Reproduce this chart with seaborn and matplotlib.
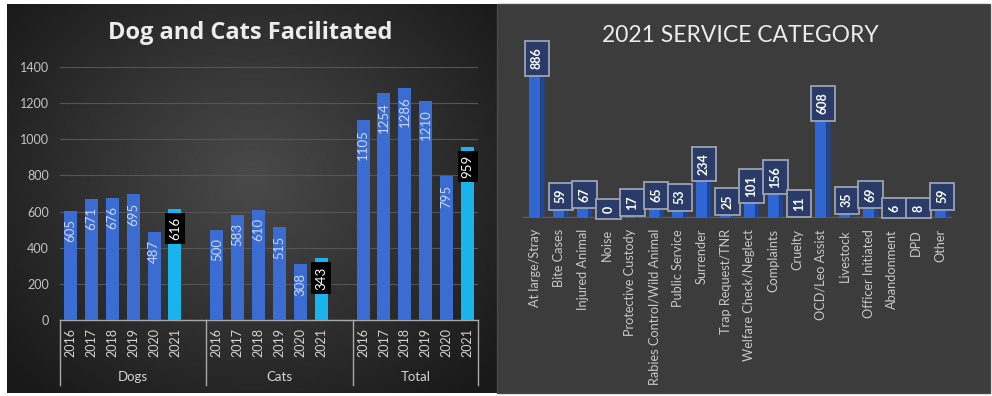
import numpy as np
import pandas as pd
import matplotlib
matplotlib.use("Agg")
import matplotlib.pyplot as plt
import seaborn as sns
from matplotlib.patches import Polygon, Rectangle
from matplotlib.transforms import blended_transform_factory

# ---- data -------------------------------------------------------------
groups = ["Dogs", "Cats", "Total"]
years = ["2016", "2017", "2018", "2019", "2020", "2021"]
dogs = [605, 671, 676, 695, 487, 616]
cats = [500, 583, 610, 515, 308, 343]
total = [1105, 1254, 1286, 1210, 795, 959]
y_ticks = [0, 200, 400, 600, 800, 1000, 1200, 1400]

service_categories = [
    "At large/Stray", "Bite Cases", "Injured Animal", "Noise",
    "Protective Custody", "Rabies Control/Wild Animal", "Public Service",
    "Surrender", "Trap Request/TNR", "Welfare Check/Neglect", "Complaints",
    "Cruelty", "OCD/Leo Assist", "Livestock", "Officer Initiated",
    "Abandonment", "DPD", "Other",
]
service_counts = [886, 59, 67, 0, 17, 65, 53, 234, 25, 101, 156, 11, 608,
                  35, 69, 6, 8, 59]

plt.rcParams["font.family"] = ["Lato", "DejaVu Sans"]

# ---- figure and panel backgrounds --------------------------------------
W, H = 992, 396
fig = plt.figure(figsize=(W / 100, H / 100), dpi=100, facecolor="white")

def fx(px):
    return px / W

def fy(py):
    return 1 - py / H

# left panel: radial gradient
bg = fig.add_axes([fx(7), fy(393), fx(490), (393 - 4) / H], zorder=0)
yy, xx = np.mgrid[0:1:200j, 0:1:300j]
r = np.sqrt(((xx - 0.5) / 0.75) ** 2 + ((yy - 0.45) / 0.85) ** 2)
shade = np.clip(0.29 - 0.22 * r, 0.10, 0.30)
bg.imshow(np.dstack([shade] * 3), aspect="auto", extent=[0, 1, 0, 1],
          interpolation="bicubic")
bg.set_axis_off()

# right panel: flat dark grey
fig.patches.append(Rectangle((fx(497), fy(393)), fx(493), (393 - 4) / H,
                             transform=fig.transFigure, facecolor="#3c3c3c",
                             edgecolor="#4a4a4a", lw=1, zorder=0))

# ---- left chart: Dog and Cats Facilitated --------------------------------
slots, values, hl = [], [], []
for g, vals in zip(groups, [dogs, cats, total]):
    for yr, v in zip(years, vals):
        slots.append(f"{g}|{yr}")
        values.append(v)
        hl.append("cur" if yr == "2021" else "past")
fac = pd.DataFrame({"slot": slots, "count": values, "period": hl})

order = []
for i, g in enumerate(groups):
    order += [f"{g}|{yr}" for yr in years]
    if i < len(groups) - 1:
        order.append(f"{g}|")  # spacer slot between groups

ax1 = fig.add_axes([fx(60), fy(320), fx(418), (320 - 67) / H], zorder=2)
ax1.set_facecolor("none")
sns.barplot(data=fac, x="slot", y="count", hue="period", order=order,
            palette={"past": "#3a6cd2", "cur": "#19b3ee"}, dodge=False,
            width=0.62, saturation=1, legend=False, ax=ax1, zorder=3)
ax1.set_ylim(0, 1400)
ax1.set_xlim(-0.5, len(order) - 0.5)
ax1.set_yticks(y_ticks)
ax1.set_yticklabels([str(t) for t in y_ticks], color="#c4c4c4", fontsize=9)
ax1.tick_params(axis="y", length=0, pad=8)
ax1.grid(axis="y", color="#555555", lw=0.8, zorder=0)
ax1.set_axisbelow(True)
for s in ["top", "right", "left"]:
    ax1.spines[s].set_visible(False)
ax1.spines["bottom"].set_color("#a8a8a8")
ax1.spines["bottom"].set_linewidth(1)

tick_pos = [order.index(s) for s in slots]
ax1.set_xticks(tick_pos)
ax1.set_xticklabels([s.split("|")[1] for s in slots], rotation=90,
                    color="#d4d4d4", fontsize=9)
ax1.tick_params(axis="x", length=0, pad=6)
ax1.set_xlabel("")
ax1.set_ylabel("")

# value labels
for s, v, p in zip(slots, values, hl):
    x = order.index(s)
    if p == "cur":
        ax1.annotate(str(v), (x, v), xytext=(0, -6), textcoords="offset points",
                     rotation=90, ha="center", va="top", color="white",
                     fontsize=9.5, zorder=5,
                     bbox=dict(boxstyle="square,pad=0.3", fc="black", ec="none"))
    else:
        ax1.annotate(str(v), (x, v), xytext=(0, -6), textcoords="offset points",
                     rotation=90, ha="center", va="top", color="#c8d8f4",
                     fontsize=9.5, zorder=5)

# multi-level category axis: separators and group names
tr = blended_transform_factory(ax1.transData, ax1.transAxes)
seps = [-0.5, 6.5, 13.5, len(order) - 0.5]
for sx in seps:
    ax1.plot([sx, sx], [0, -65 / (320 - 67)], transform=tr, color="#a8a8a8",
             lw=1, clip_on=False)
for g, a, b in zip(groups, seps[:-1], seps[1:]):
    ax1.text((a + b) / 2, -57 / (320 - 67), g, transform=tr, ha="center",
             va="center", color="#d4d4d4", fontsize=9.5)

fig.text(fx(250), fy(33), "Dog and Cats Facilitated", ha="center",
         va="center", color="#ececec", fontsize=17,
         family=["Open Sans", "DejaVu Sans"], fontweight="bold")

# ---- right chart: 2021 SERVICE CATEGORY --------------------------------
svc = pd.DataFrame({"category": service_categories, "count": service_counts})
ax2 = fig.add_axes([fx(523), fy(218), fx(429), 162 / H], zorder=2)
ax2.set_facecolor("none")
sns.barplot(data=svc, x="category", y="count", color="#2f66d4", width=0.46,
            saturation=1, ax=ax2, zorder=3)
ax2.set_ylim(0, 1000)
ax2.set_xlim(-0.5, len(service_categories) - 0.5)

# pseudo-3D side and top faces of each column
dx, dy = 0.17, 14
for bar in ax2.patches[:len(service_categories)]:
    x0, w, h = bar.get_x(), bar.get_width(), bar.get_height()
    x1 = x0 + w
    ax2.add_patch(Polygon([(x1, 0), (x1 + dx, dy), (x1 + dx, h + dy), (x1, h)],
                          closed=True, fc="#1d4699", ec="none", zorder=3))
    ax2.add_patch(Polygon([(x0, h), (x0 + dx, h + dy), (x1 + dx, h + dy), (x1, h)],
                          closed=True, fc="#5a88e6", ec="none", zorder=3))

# floor of the 3D plot
ax2.axhline(0, color="#5c5c5c", lw=2.5, zorder=2)

for i, v in enumerate(service_counts):
    ax2.annotate(str(v), (i + dx / 2, v + dy), xytext=(0, 2),
                 textcoords="offset points", rotation=90, ha="center",
                 va="bottom", color="white", fontsize=9, fontweight="bold",
                 zorder=6, annotation_clip=False,
                 bbox=dict(boxstyle="square,pad=0.5", fc="#2a3b68",
                           ec="#9aa3b4", lw=1.3))

ax2.set_xticks(range(len(service_categories)))
ax2.set_xticklabels(service_categories, rotation=90, color="#c8c8c8",
                    fontsize=9.2)
ax2.tick_params(axis="x", length=0, pad=8)
ax2.set_yticks([])
ax2.set_xlabel("")
ax2.set_ylabel("")
for s in ax2.spines.values():
    s.set_visible(False)

fig.text(fx(740), fy(36), "2021 SERVICE CATEGORY", ha="center", va="center",
         color="#ececec", fontsize=16.5)

fig.savefig("out.png", dpi=100, facecolor="white")
